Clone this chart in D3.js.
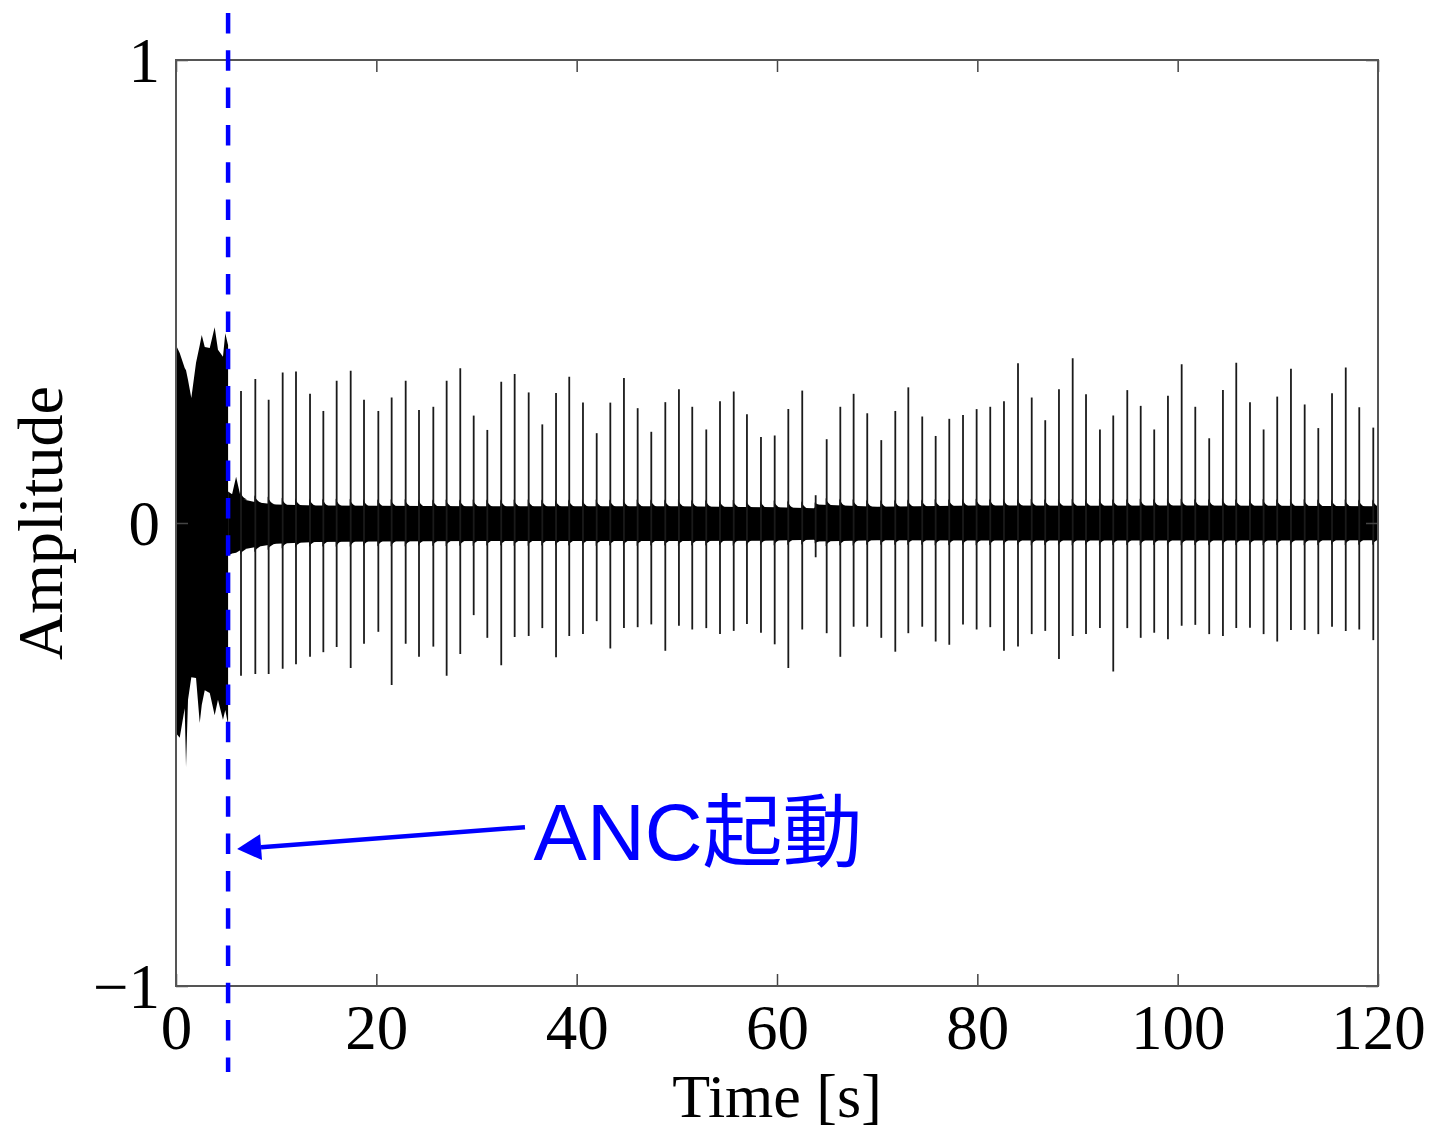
<!DOCTYPE html>
<html>
<head>
<meta charset="utf-8">
<script src="https://cdn.jsdelivr.net/npm/d3@7"></script>
<style>
  html, body { margin: 0; padding: 0; background: #fff; }
  svg { display: block; }
</style>
</head>
<body>
<div id="chart"></div>
<script>
// ---- data ----
const xTicks = [0, 20, 40, 60, 80, 100, 120];
const yTicks = [-1, 0, 1];

// envelope of the dense signal before ANC start (time s, upper, lower)
const preT  = [0, 0.37, 0.87, 1.0, 1.2, 1.53, 2.0, 2.37, 2.57, 2.87, 3.37, 3.86, 4.19, 4.69, 4.92, 5.2];
const preHi = [0.384, 0.367, 0.335, 0.330, 0.309, 0.270, 0.346, 0.384, 0.406, 0.380, 0.378, 0.423, 0.374, 0.359, 0.410, 0.384];
const preLo = [-0.454, -0.464, -0.400, -0.527, -0.382, -0.333, -0.335, -0.432, -0.393, -0.361, -0.367, -0.415, -0.382, -0.425, -0.404, -0.436];

// residual noise band after ANC start
const bandT  = [5.2, 5.6, 6.0, 6.5, 8, 10, 14, 20, 30, 40, 50, 60, 63.7, 63.9, 70, 80, 90, 100, 110, 120];
const bandHi = [0.068, 0.062, 0.100, 0.052, 0.045, 0.040, 0.038, 0.037, 0.036, 0.036, 0.036, 0.034, 0.032, 0.040, 0.035, 0.038, 0.037, 0.038, 0.037, 0.036];
const bandLo = [-0.070, -0.066, -0.064, -0.058, -0.052, -0.045, -0.041, -0.040, -0.039, -0.039, -0.039, -0.038, -0.036, -0.040, -0.037, -0.038, -0.038, -0.038, -0.038, -0.037];

// periodic spikes after ANC start
const spikeT = [6.49, 7.92, 9.25, 10.65, 11.98, 13.38, 14.71, 16.04, 17.44, 18.77,
  20.20, 21.53, 22.93, 24.26, 25.69, 27.02, 28.38, 29.72, 31.08, 32.47,
  33.81, 35.21, 36.57, 37.94, 39.26, 40.63, 42.00, 43.36, 44.72, 46.09,
  47.45, 48.85, 50.21, 51.54, 52.94, 54.31, 55.68, 57.00, 58.40, 59.77,
  61.13, 62.52, 63.86, 64.96, 66.32, 67.65, 69.01, 70.41, 71.81, 73.11,
  74.50, 75.84, 77.20, 78.57, 79.93, 81.29, 82.66, 84.06, 85.43, 86.78,
  88.15, 89.52, 90.85, 92.24, 93.57, 94.97, 96.31, 97.66, 99.03, 100.40,
  101.76, 103.15, 104.52, 105.85, 107.22, 108.58, 109.94, 111.31, 112.68, 114.04,
  115.41, 116.78, 118.13, 119.53];
const spikeHi = [0.285, 0.311, 0.266, 0.325, 0.327, 0.279, 0.242, 0.307, 0.329, 0.266,
  0.242, 0.271, 0.307, 0.244, 0.251, 0.307, 0.334, 0.232, 0.201, 0.305,
  0.322, 0.282, 0.213, 0.281, 0.316, 0.260, 0.194, 0.260, 0.313, 0.248,
  0.197, 0.261, 0.289, 0.251, 0.202, 0.263, 0.284, 0.235, 0.186, 0.189,
  0.246, 0.286, 0.060, 0.181, 0.251, 0.279, 0.237, 0.179, 0.242, 0.293,
  0.230, 0.188, 0.225, 0.233, 0.246, 0.251, 0.263, 0.345, 0.271, 0.222,
  0.289, 0.356, 0.278, 0.202, 0.232, 0.287, 0.253, 0.202, 0.275, 0.343,
  0.251, 0.183, 0.287, 0.346, 0.261, 0.202, 0.273, 0.333, 0.256, 0.205,
  0.280, 0.336, 0.250, 0.206];
const spikeLo = [-0.330, -0.326, -0.326, -0.315, -0.305, -0.289, -0.279, -0.268, -0.313, -0.261,
  -0.235, -0.350, -0.261, -0.289, -0.267, -0.330, -0.283, -0.199, -0.248, -0.307,
  -0.246, -0.244, -0.227, -0.290, -0.244, -0.240, -0.212, -0.271, -0.227, -0.225,
  -0.219, -0.276, -0.222, -0.230, -0.227, -0.240, -0.233, -0.218, -0.237, -0.262,
  -0.313, -0.230, -0.074, -0.238, -0.289, -0.224, -0.224, -0.248, -0.278, -0.238,
  -0.224, -0.256, -0.263, -0.219, -0.230, -0.225, -0.276, -0.267, -0.240, -0.233,
  -0.294, -0.244, -0.240, -0.227, -0.321, -0.227, -0.248, -0.237, -0.251, -0.222,
  -0.220, -0.240, -0.244, -0.227, -0.226, -0.240, -0.256, -0.231, -0.231, -0.240,
  -0.224, -0.233, -0.230, -0.253];

// annotation
const ancTime = 5.2;
const ancLabel = "ANC起動";
const arrowFrom = [34.84, -0.657];
const arrowTo = [6.1, -0.704];
const labelAt = [35.7, -0.728];

// ---- layout ----
const W = 1433, H = 1132;
const margin = { left: 176, top: 60, right: 55, bottom: 146 };
const pw = W - margin.left - margin.right;
const ph = H - margin.top - margin.bottom;

const svg = d3.select("#chart").append("svg")
  .attr("width", W).attr("height", H);

const x = d3.scaleLinear().domain([0, 120]).range([margin.left, margin.left + pw]);
const y = d3.scaleLinear().domain([-1, 1]).range([margin.top + ph, margin.top]);

svg.append("defs").append("clipPath").attr("id", "plotclip")
  .append("rect").attr("x", margin.left).attr("y", margin.top)
  .attr("width", pw).attr("height", ph);

const wave = svg.append("g").attr("clip-path", "url(#plotclip)");

// dense part before ANC
const preData = preT.map((t, i) => ({ t, hi: preHi[i], lo: preLo[i] }));
wave.append("path")
  .datum(preData)
  .attr("d", d3.area().x(d => x(d.t)).y0(d => y(d.lo)).y1(d => y(d.hi)))
  .attr("fill", "#000");

// noise band after ANC
const bandData = bandT.map((t, i) => ({ t, hi: bandHi[i], lo: bandLo[i] }));
wave.append("path")
  .datum(bandData)
  .attr("d", d3.area().x(d => x(d.t)).y0(d => y(d.lo)).y1(d => y(d.hi)))
  .attr("fill", "#000");

const bandAt = (t, key) => {
  const i = Math.max(1, d3.bisectLeft(bandT, t));
  const t0 = bandT[i - 1], t1 = bandT[Math.min(i, bandT.length - 1)];
  const v0 = (key === "hi" ? bandHi : bandLo)[i - 1];
  const v1 = (key === "hi" ? bandHi : bandLo)[Math.min(i, bandT.length - 1)];
  return t1 === t0 ? v0 : v0 + (v1 - v0) * (t - t0) / (t1 - t0);
};

const spikes = spikeT.map((t, i) => ({ t, hi: spikeHi[i], lo: spikeLo[i] }));

// small decay flare where each spike meets the band
wave.selectAll("path.fin")
  .data(spikes)
  .join("path")
  .attr("class", "fin")
  .attr("d", d => {
    const sx = x(d.t);
    const top = y(bandAt(d.t, "hi"));
    const bot = y(bandAt(d.t, "lo"));
    const big = d.hi > 0.1 ? 1 : 0.4;
    return `M${sx - 1},${top + 2}L${sx - 1},${top - 7 * big}Q${sx + 1},${top - 1} ${sx + 6},${top + 1}Z` +
           `M${sx - 1},${bot - 2}L${sx - 1},${bot + 5 * big}Q${sx + 1},${bot + 1} ${sx + 5},${bot - 1}Z`;
  })
  .attr("fill", "#000");

wave.selectAll("line.spike")
  .data(spikes)
  .join("line")
  .attr("class", "spike")
  .attr("x1", d => x(d.t)).attr("x2", d => x(d.t))
  .attr("y1", d => y(d.hi)).attr("y2", d => y(d.lo))
  .attr("stroke", "#1a1a1a")
  .attr("stroke-width", 1.8);

// ---- axes (MATLAB style box with inward ticks) ----
const serif = "'Liberation Serif', 'Times New Roman', serif";
const tickLen = 12;

svg.append("g")
  .attr("transform", `translate(0,${margin.top + ph})`)
  .call(d3.axisBottom(x).tickValues(xTicks).tickSizeInner(-tickLen).tickSizeOuter(0).tickPadding(18));
svg.append("g")
  .attr("transform", `translate(0,${margin.top})`)
  .call(d3.axisTop(x).tickValues(xTicks).tickSizeInner(-tickLen).tickSizeOuter(0).tickFormat(""));
const gy = svg.append("g")
  .attr("transform", `translate(${margin.left},0)`)
  .call(d3.axisLeft(y).tickValues(yTicks).tickFormat(d3.format("d"))
    .tickSizeInner(-tickLen).tickSizeOuter(0).tickPadding(16));
svg.append("g")
  .attr("transform", `translate(${margin.left + pw},0)`)
  .call(d3.axisRight(y).tickValues(yTicks).tickSizeInner(-tickLen).tickSizeOuter(0).tickFormat(""));

svg.selectAll(".domain").remove();
svg.selectAll(".tick line").attr("stroke", "#444").attr("stroke-width", 1.5);
svg.selectAll(".tick text")
  .attr("font-family", serif)
  .attr("font-size", 63)
  .attr("fill", "#000");
gy.selectAll(".tick text").attr("dy", "0.34em");

svg.append("rect")
  .attr("x", margin.left).attr("y", margin.top)
  .attr("width", pw).attr("height", ph)
  .attr("fill", "none")
  .attr("stroke", "#555")
  .attr("stroke-width", 2);

svg.append("text")
  .attr("x", x(60)).attr("y", 1117)
  .attr("text-anchor", "middle")
  .attr("font-family", serif).attr("font-size", 62)
  .text("Time [s]");

svg.append("text")
  .attr("transform", `translate(62,${y(0)}) rotate(-90)`)
  .attr("text-anchor", "middle")
  .attr("font-family", serif).attr("font-size", 64)
  .text("Amplitude");

// ---- ANC start marker ----
const blue = "#0000ff";
svg.append("line")
  .attr("x1", x(ancTime)).attr("x2", x(ancTime))
  .attr("y1", 13).attr("y2", 1072)
  .attr("stroke", blue)
  .attr("stroke-width", 4.5)
  .attr("stroke-dasharray", "20.5 16.8");

const ax0 = x(arrowFrom[0]), ay0 = y(arrowFrom[1]);
const ax1 = x(arrowTo[0]), ay1 = y(arrowTo[1]);
const ang = Math.atan2(ay1 - ay0, ax1 - ax0);
const headLen = 24, headHalf = 13;
const bx = ax1 - headLen * Math.cos(ang), by = ay1 - headLen * Math.sin(ang);
svg.append("line")
  .attr("x1", ax0).attr("y1", ay0).attr("x2", bx).attr("y2", by)
  .attr("stroke", blue).attr("stroke-width", 4.5);
svg.append("path")
  .attr("d", `M${ax1},${ay1}L${bx + headHalf * Math.sin(ang)},${by - headHalf * Math.cos(ang)}L${bx - headHalf * Math.sin(ang)},${by + headHalf * Math.cos(ang)}Z`)
  .attr("fill", blue);

svg.append("text")
  .attr("x", x(labelAt[0])).attr("y", y(labelAt[1]))
  .attr("font-family", "'Liberation Sans', Arial, 'Noto Sans CJK JP', sans-serif")
  .attr("font-size", 80)
  .attr("fill", blue)
  .text(ancLabel);
</script>
</body>
</html>
